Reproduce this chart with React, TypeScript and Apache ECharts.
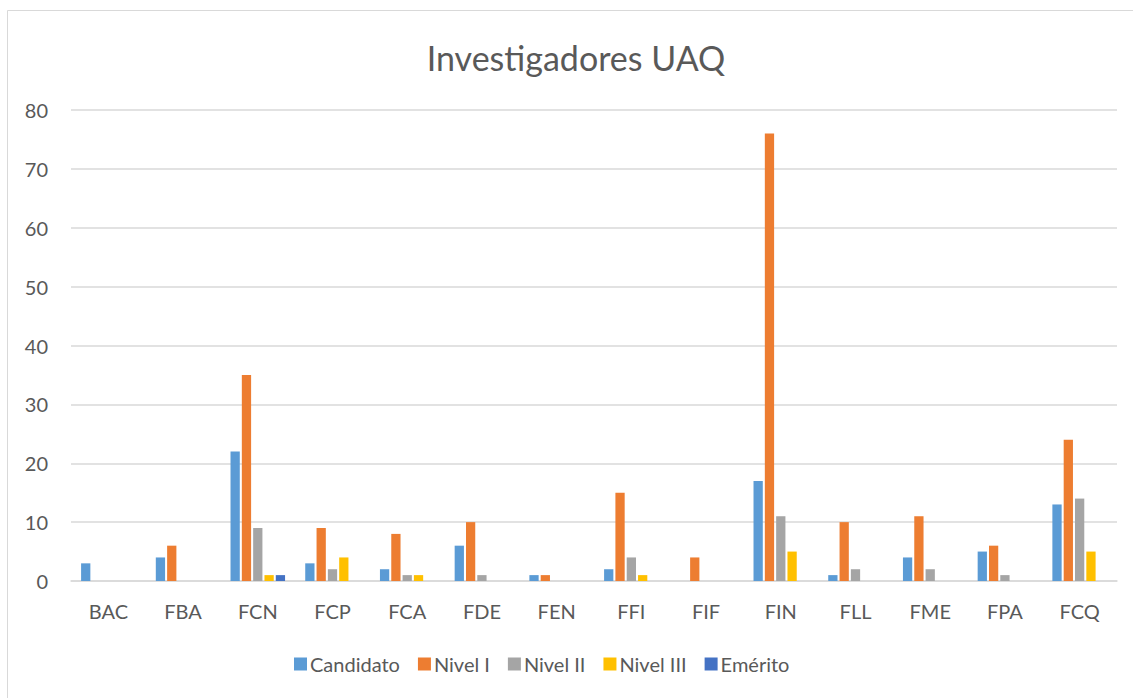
import React, { useEffect, useRef } from "react";
import * as echarts from "echarts";

const categories = ["BAC", "FBA", "FCN", "FCP", "FCA", "FDE", "FEN", "FFI", "FIF", "FIN", "FLL", "FME", "FPA", "FCQ"];
const seriesNames = ["Candidato", "Nivel I", "Nivel II", "Nivel III", "Emérito"];
const candidato = [3, 4, 22, 3, 2, 6, 1, 2, 0, 17, 1, 4, 5, 13];
const nivel1 = [0, 6, 35, 9, 8, 10, 1, 15, 4, 76, 10, 11, 6, 24];
const nivel2 = [0, 0, 9, 2, 1, 1, 0, 4, 0, 11, 2, 2, 1, 14];
const nivel3 = [0, 0, 1, 4, 1, 0, 0, 1, 0, 5, 0, 0, 0, 5];
const emerito = [0, 0, 1, 0, 0, 0, 0, 0, 0, 0, 0, 0, 0, 0];
const colors = ["#5B9BD5", "#ED7D31", "#A5A5A5", "#FFC000", "#4472C4"];

export default function App() {
  const ref = useRef<HTMLDivElement>(null);
  useEffect(() => {
    if (!ref.current) return;
    const chart = echarts.init(ref.current, undefined, { renderer: "svg" });
    const font = "Lato, 'Open Sans', sans-serif";
    const data = [candidato, nivel1, nivel2, nivel3, emerito];
    chart.setOption({
      animation: false,
      backgroundColor: "#ffffff",
      textStyle: { fontFamily: font },
      title: {
        text: "Investigadores UAQ",
        left: 571,
        textAlign: "center",
        top: 35,
        textStyle: { fontFamily: font, fontSize: 34, fontWeight: "normal", color: "#595959" },
      },
      graphic: [
        {
          type: "rect",
          shape: { x: 7.5, y: 10.5, width: 1140, height: 700 },
          style: { fill: "none", stroke: "#d9d9d9", lineWidth: 1 },
          silent: true,
        },
      ],
      legend: {
        left: 289,
        top: 649,
        itemWidth: 13,
        itemHeight: 13,
        itemGap: 18,
        icon: "rect",
        textStyle: { fontFamily: font, fontSize: 20, color: "#595959", padding: [0, 0, 0, -2] },
        data: seriesNames,
      },
      grid: { left: 71, right: 16, top: 110, bottom: 117, containLabel: false },
      xAxis: {
        type: "category",
        data: categories,
        axisLine: { show: true, lineStyle: { color: "#d9d9d9", width: 1.5 } },
        axisTick: { show: false },
        axisLabel: { fontFamily: font, fontSize: 20, color: "#595959", margin: 20 },
      },
      yAxis: {
        type: "value",
        min: 0,
        max: 80,
        interval: 10,
        axisLine: { show: false },
        axisTick: { show: false },
        splitLine: { lineStyle: { color: "#d9d9d9", width: 1.5 } },
        axisLabel: { fontFamily: font, fontSize: 20, color: "#595959", margin: 23 },
      },
      series: seriesNames.map((name, i) => ({
        name,
        type: "bar",
        data: data[i],
        barCategoryGap: "27%",
        barGap: "22%",
        itemStyle: { color: colors[i] },
      })),
    });
    return () => chart.dispose();
  }, []);
  return (
    <div
      ref={ref}
      style={{ position: "absolute", left: 0, top: 0, width: 1133, height: 698 }}
    />
  );
}
